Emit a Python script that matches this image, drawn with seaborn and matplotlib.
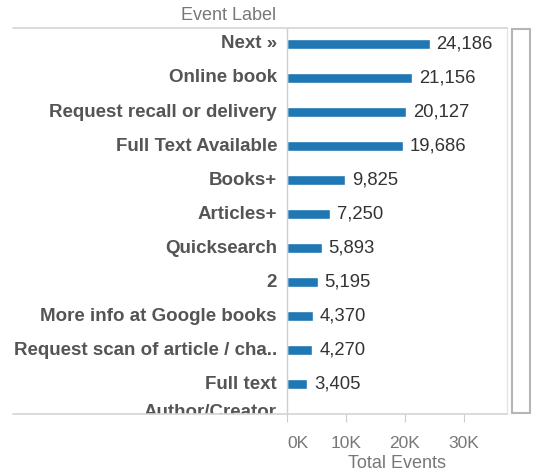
import matplotlib
matplotlib.use("Agg")
import matplotlib.pyplot as plt
import matplotlib.patches as mpatches
from matplotlib.lines import Line2D
from matplotlib.transforms import Bbox, TransformedBbox, blended_transform_factory, offset_copy
import pandas as pd
import seaborn as sns

LABELS = [
    "Next \u00bb", "Online book", "Request recall or delivery", "Full Text Available",
    "Books+", "Articles+", "Quicksearch", "2", "More info at Google books",
    "Request scan of article / cha..", "Full text", "Author/Creator",
]
EVENTS = [24186, 21156, 20127, 19686, 9825, 7250, 5893, 5195, 4370, 4270, 3405, 3060]
X_TICKS = [0, 10000, 20000, 30000]
X_TICK_LABELS = ["0K", "10K", "20K", "30K"]

W, H = 544, 473
# plot area in pixels
PX_LEFT, PX_RIGHT, PX_TOP, PX_BOTTOM = 287, 507, 28, 414

sns.set_theme(style="white")
plt.rcParams["font.family"] = ["Liberation Sans", "DejaVu Sans"]

df = pd.DataFrame({"label": LABELS, "events": EVENTS})

fig = plt.figure(figsize=(W / 100, H / 100), dpi=100)
ax = fig.add_axes([PX_LEFT / W, 1 - PX_BOTTOM / H,
                   (PX_RIGHT - PX_LEFT) / W, (PX_BOTTOM - PX_TOP) / H])

sns.barplot(data=df, x="events", y="label", orient="h", color="#1f77b4",
            saturation=1, width=0.3, ax=ax)

ax.set_xlim(0, 37300)
ax.set_ylim(10.88, -0.47)

texts = ax.bar_label(ax.containers[0], labels=[f"{v:,}" for v in EVENTS],
                     padding=5, fontsize=13.3, color="#333333")
for t in texts:
    t.set_clip_on(True)

# row labels drawn as text so the partly scrolled last row is clipped like the original
clip = TransformedBbox(Bbox([[0, 1 - PX_BOTTOM / H], [1, 1 - PX_TOP / H]]), fig.transFigure)
base = blended_transform_factory(ax.transAxes, ax.transData)
ax.set_yticks([])
for i, lab in enumerate(LABELS):
    # the half-scrolled last row label sits a little higher in the original
    dy = 6 if i == len(LABELS) - 1 else 0
    trans = offset_copy(base, fig=fig, x=-10, y=dy, units="dots")
    t = ax.text(0, i, lab, transform=trans, ha="right", va="center",
                fontsize=13.5, fontweight="bold", color="#555555", clip_on=True)
    t.set_clip_box(clip)

ax.set_xticks(X_TICKS)
ax.set_xticklabels(X_TICK_LABELS, fontsize=12.5, color="#777777")
ax.get_xticklabels()[0].set_horizontalalignment("left")
ax.tick_params(axis="x", bottom=True, length=6, width=0.8, color="#cccccc", pad=10)

ax.set_xlabel("Total Events", fontsize=13, color="#777777", labelpad=3)
ax.set_ylabel("")

for side in ["top", "bottom"]:
    ax.spines[side].set_visible(False)
ax.spines["left"].set_color("#cfcfcf")
ax.spines["left"].set_linewidth(1)
ax.spines["right"].set_color("#e4e4e4")
ax.spines["right"].set_linewidth(1)

# header lines spanning label column and plot area
for py in (PX_TOP, PX_BOTTOM):
    fig.add_artist(Line2D([13 / W, PX_RIGHT / W], [1 - py / H, 1 - py / H],
                          transform=fig.transFigure, color="#d4d4d4", lw=1.2))

fig.text(276 / W, 1 - 15 / H, "Event Label", ha="right", va="center",
         fontsize=13, color="#777777")

# scrollbar track
fig.add_artist(mpatches.Rectangle((512 / W, 1 - 413 / H), 18 / W, 384 / H,
                                  transform=fig.transFigure, fill=False,
                                  edgecolor="#b5b5b5", lw=1.5))

fig.savefig("out.png", dpi=100)
